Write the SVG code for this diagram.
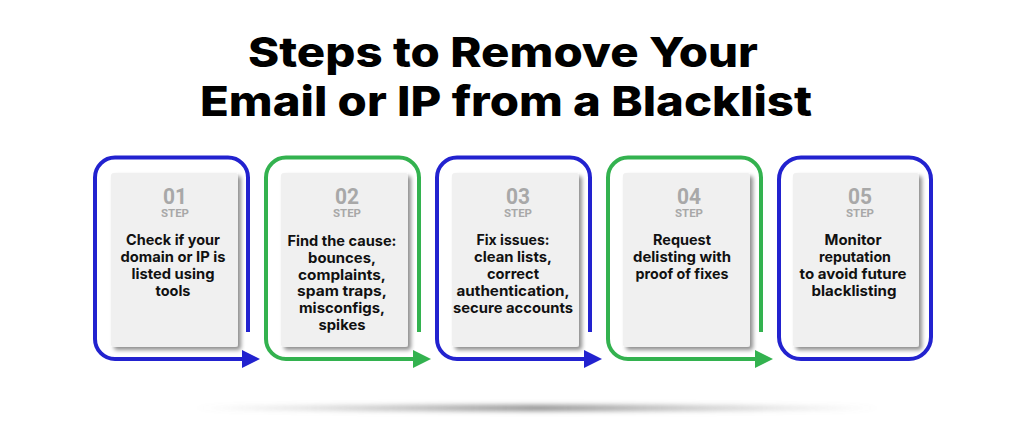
<svg xmlns="http://www.w3.org/2000/svg" width="1024" height="438" viewBox="0 0 1024 438">
  <defs>
    <style>
      .title { font-family: "Inter", "Liberation Sans", sans-serif; font-weight: 800; font-size: 41px; fill: #000; text-anchor: middle; }
      .num { font-family: "Roboto", "Liberation Sans", sans-serif; font-weight: 700; font-size: 22px; fill: #a8a8a8; text-anchor: middle; }
      .step { font-family: "Roboto", "Liberation Sans", sans-serif; font-weight: 700; font-size: 10.5px; fill: #a8a8a8; text-anchor: middle; }
      .body { font-family: "Inter", "Liberation Sans", sans-serif; font-weight: 700; font-size: 14.5px; fill: #111; text-anchor: middle; }
      .blue { fill: none; stroke: #2222cf; stroke-width: 4; }
      .green { fill: none; stroke: #33b24f; stroke-width: 4; }
      .card { fill: #f0f0f0; filter: url(#shadow); }
    </style>
    <filter id="shadow" x="-10%" y="-10%" width="130%" height="130%">
      <feGaussianBlur in="SourceAlpha" stdDeviation="2"/>
      <feOffset dx="3" dy="3" result="b"/>
      <feComponentTransfer><feFuncA type="linear" slope="0.45"/></feComponentTransfer>
      <feMerge><feMergeNode/><feMergeNode in="SourceGraphic"/></feMerge>
    </filter>
    <filter id="blur" x="-5%" y="-200%" width="110%" height="500%">
      <feGaussianBlur stdDeviation="2.5"/>
    </filter>
    <linearGradient id="fade" x1="0" y1="0" x2="1" y2="0">
      <stop offset="0" stop-color="#888" stop-opacity="0"/>
      <stop offset="0.5" stop-color="#777" stop-opacity="0.85"/>
      <stop offset="1" stop-color="#888" stop-opacity="0"/>
    </linearGradient>
  </defs>

  <g id="title">
    <text class="title" x="503" y="67" textLength="510" lengthAdjust="spacingAndGlyphs">Steps to Remove Your</text>
    <text class="title" x="506" y="116" textLength="612" lengthAdjust="spacingAndGlyphs">Email or IP from a Blacklist</text>
  </g>

  <ellipse id="ground-shadow" cx="537" cy="408" rx="345" ry="3" fill="url(#fade)" filter="url(#blur)"/>

  <g id="connectors">
    <path class="blue" d="M248,332 V177.5 A20,20 0 0 0 228,157.5 H115 A20,20 0 0 0 95,177.5 V339 A20,20 0 0 0 115,359 H245"/>
    <polygon points="242,350 260,359 242,368" fill="#2222cf"/>
    <path class="green" d="M419,332 V177.5 A20,20 0 0 0 399,157.5 H286 A20,20 0 0 0 266,177.5 V339 A20,20 0 0 0 286,359 H416"/>
    <polygon points="413,350 431,359 413,368" fill="#33b24f"/>
    <path class="blue" d="M590,332 V177.5 A20,20 0 0 0 570,157.5 H457 A20,20 0 0 0 437,177.5 V339 A20,20 0 0 0 457,359 H587"/>
    <polygon points="584,350 602,359 584,368" fill="#2222cf"/>
    <path class="green" d="M761,332 V177.5 A20,20 0 0 0 741,157.5 H628 A20,20 0 0 0 608,177.5 V339 A20,20 0 0 0 628,359 H758"/>
    <polygon points="755,350 773,359 755,368" fill="#33b24f"/>
    <rect class="blue" x="779" y="157.5" width="152" height="201.5" rx="22" ry="22"/>
  </g>

  <g id="step1">
    <rect class="card" x="111" y="173" width="127" height="174" rx="3"/>
    <text class="num" x="175" y="204" textLength="24" lengthAdjust="spacingAndGlyphs">01</text>
    <text class="step" x="175" y="217" textLength="28" lengthAdjust="spacingAndGlyphs">STEP</text>
    <text class="body" x="173" y="245" textLength="94" lengthAdjust="spacingAndGlyphs">Check if your</text>
    <text class="body" x="173" y="262" textLength="105" lengthAdjust="spacingAndGlyphs">domain or IP is</text>
    <text class="body" x="173" y="279" textLength="83" lengthAdjust="spacingAndGlyphs">listed using</text>
    <text class="body" x="173" y="296" textLength="35" lengthAdjust="spacingAndGlyphs">tools</text>
  </g>

  <g id="step2">
    <rect class="card" x="281" y="173" width="127" height="174" rx="3"/>
    <text class="num" x="347" y="204" textLength="24" lengthAdjust="spacingAndGlyphs">02</text>
    <text class="step" x="347" y="217" textLength="28" lengthAdjust="spacingAndGlyphs">STEP</text>
    <text class="body" x="342" y="246" textLength="109" lengthAdjust="spacingAndGlyphs">Find the cause:</text>
    <text class="body" x="342" y="262.8" textLength="68" lengthAdjust="spacingAndGlyphs">bounces,</text>
    <text class="body" x="342" y="279.6" textLength="88" lengthAdjust="spacingAndGlyphs">complaints,</text>
    <text class="body" x="342" y="296.4" textLength="90" lengthAdjust="spacingAndGlyphs">spam traps,</text>
    <text class="body" x="342" y="313.2" textLength="86" lengthAdjust="spacingAndGlyphs">misconfigs,</text>
    <text class="body" x="342" y="330" textLength="47" lengthAdjust="spacingAndGlyphs">spikes</text>
  </g>

  <g id="step3">
    <rect class="card" x="452" y="173" width="127" height="174" rx="3"/>
    <text class="num" x="518" y="204" textLength="24" lengthAdjust="spacingAndGlyphs">03</text>
    <text class="step" x="518" y="217" textLength="28" lengthAdjust="spacingAndGlyphs">STEP</text>
    <text class="body" x="513" y="245" textLength="73" lengthAdjust="spacingAndGlyphs">Fix issues:</text>
    <text class="body" x="513" y="262" textLength="78" lengthAdjust="spacingAndGlyphs">clean lists,</text>
    <text class="body" x="513" y="279" textLength="52" lengthAdjust="spacingAndGlyphs">correct</text>
    <text class="body" x="513" y="296" textLength="113" lengthAdjust="spacingAndGlyphs">authentication,</text>
    <text class="body" x="513" y="313" textLength="120" lengthAdjust="spacingAndGlyphs">secure accounts</text>
  </g>

  <g id="step4">
    <rect class="card" x="623" y="173" width="127" height="174" rx="3"/>
    <text class="num" x="689" y="204" textLength="24" lengthAdjust="spacingAndGlyphs">04</text>
    <text class="step" x="689" y="217" textLength="28" lengthAdjust="spacingAndGlyphs">STEP</text>
    <text class="body" x="682" y="245" textLength="58" lengthAdjust="spacingAndGlyphs">Request</text>
    <text class="body" x="682" y="262" textLength="98" lengthAdjust="spacingAndGlyphs">delisting with</text>
    <text class="body" x="682" y="279" textLength="93" lengthAdjust="spacingAndGlyphs">proof of fixes</text>
  </g>

  <g id="step5">
    <rect class="card" x="793" y="173" width="126" height="174" rx="3"/>
    <text class="num" x="860" y="204" textLength="24" lengthAdjust="spacingAndGlyphs">05</text>
    <text class="step" x="860" y="217" textLength="28" lengthAdjust="spacingAndGlyphs">STEP</text>
    <text class="body" x="853" y="245" textLength="57" lengthAdjust="spacingAndGlyphs">Monitor</text>
    <text class="body" x="855" y="262" textLength="72" lengthAdjust="spacingAndGlyphs">reputation</text>
    <text class="body" x="853" y="279" textLength="107" lengthAdjust="spacingAndGlyphs">to avoid future</text>
    <text class="body" x="854" y="296" textLength="85" lengthAdjust="spacingAndGlyphs">blacklisting</text>
  </g>
</svg>
